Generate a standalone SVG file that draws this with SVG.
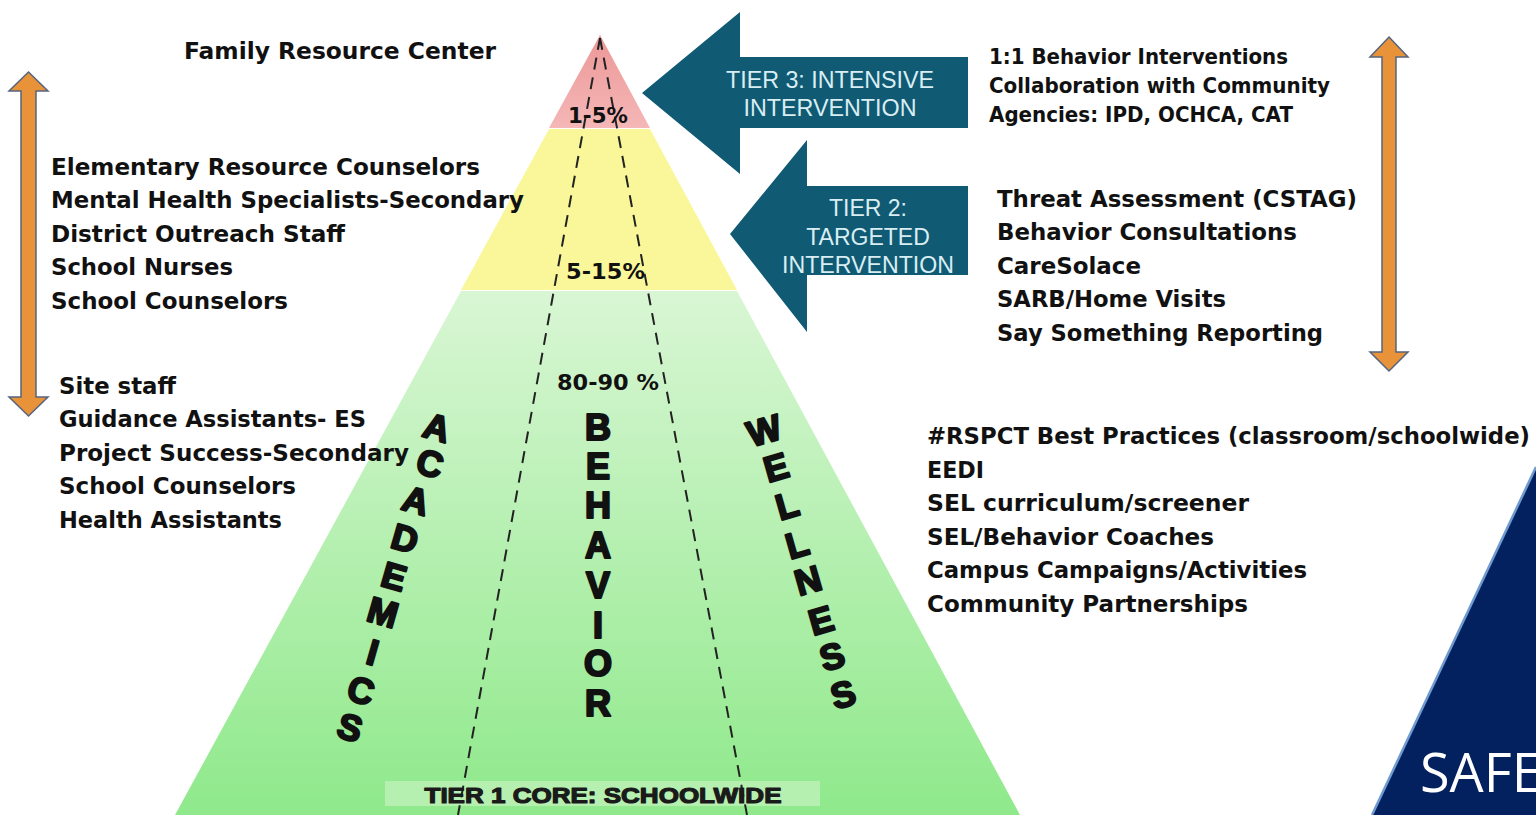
<svg xmlns="http://www.w3.org/2000/svg" width="1536" height="815" viewBox="0 0 1536 815">
<defs>
<linearGradient id="gGreen" x1="0" y1="291" x2="0" y2="815" gradientUnits="userSpaceOnUse">
<stop offset="0" stop-color="#d9f6d4"/>
<stop offset="1" stop-color="#8fe98b"/>
</linearGradient>
<linearGradient id="gRed" x1="0" y1="35" x2="0" y2="128" gradientUnits="userSpaceOnUse">
<stop offset="0" stop-color="#ec9797"/>
<stop offset="1" stop-color="#f5b7b7"/>
</linearGradient>
<style>
.t{font-family:"DejaVu Sans","Liberation Sans",sans-serif;font-weight:bold;fill:#111;}
.b{font-size:23px;}
.s{font-size:21px;}
.pct{font-family:"DejaVu Sans","Liberation Sans",sans-serif;font-weight:bold;font-size:22px;fill:#111;}
.big{font-family:"Liberation Sans",Arial,sans-serif;font-weight:bold;font-size:36px;fill:#111;stroke:#111;stroke-width:2.2;stroke-linejoin:round;text-anchor:middle;}
.teal{fill:#105a73;}
.tt{font-family:"Liberation Sans",Arial,sans-serif;font-size:23px;fill:#d9eef3;text-anchor:middle;}
.dash{fill:none;stroke:#222;stroke-width:2;stroke-dasharray:12 8;}
.orange{fill:#e8923a;stroke:#55647f;stroke-width:1.5;}
</style>
</defs>
<rect width="1536" height="815" fill="#ffffff"/>

<g id="pyramid">
<polygon points="600,35 549,128 650,128" fill="url(#gRed)"/>
<polygon points="549,129 650,129 737,290 461,290" fill="#f9f79a"/>
<polygon points="461,291 737,291 1020,815 175,815" fill="url(#gGreen)"/>
<rect x="385" y="781" width="435" height="25" fill="#b6f0b0"/>
</g>

<g id="connectors">
<path class="dash" d="M600,38 L458,815"/>
<path class="dash" d="M600,38 L747,815"/>
<path class="orange" d="M28.5,72 L48,91 L36,91 L36,397 L48,397 L28.5,416 L9,397 L21,397 L21,91 L9,91 Z"/>
<path class="orange" d="M1389,37 L1408,57 L1396,57 L1396,352 L1408,352 L1389,371 L1370,352 L1382,352 L1382,57 L1370,57 Z"/>
</g>

<g id="tier-labels">
<text class="pct" x="568" y="123" textLength="60" lengthAdjust="spacingAndGlyphs">1-5%</text>
<text class="pct" x="566" y="279" textLength="79" lengthAdjust="spacingAndGlyphs">5-15%</text>
<text class="pct" x="557" y="390" textLength="102" lengthAdjust="spacingAndGlyphs">80-90 %</text>
<text x="603" y="803" font-family="Liberation Sans,Arial,sans-serif" font-weight="bold" font-size="22" fill="#1a1a1a" stroke="#1a1a1a" stroke-width="1.2" stroke-linejoin="round" text-anchor="middle" textLength="357" lengthAdjust="spacingAndGlyphs">TIER 1 CORE: SCHOOLWIDE</text>
</g>

<g id="academics">
<text class="big" transform="translate(437,427) rotate(16)" y="13">A</text>
<text class="big" transform="translate(430,463) rotate(16)" y="13">C</text>
<text class="big" transform="translate(416,500) rotate(16)" y="13">A</text>
<text class="big" transform="translate(405,538) rotate(16)" y="13">D</text>
<text class="big" transform="translate(394,576) rotate(16)" y="13">E</text>
<text class="big" transform="translate(383,612) rotate(16)" y="13">M</text>
<text class="big" transform="translate(373,652) rotate(16)" y="13">I</text>
<text class="big" transform="translate(361,690) rotate(16)" y="13">C</text>
<text class="big" transform="translate(350,727) rotate(16)" y="13">S</text>
</g>

<g id="behavior">
<text class="big" x="598" y="440">B</text>
<text class="big" x="598" y="479">E</text>
<text class="big" x="598" y="518">H</text>
<text class="big" x="598" y="558">A</text>
<text class="big" x="598" y="598">V</text>
<text class="big" x="598" y="638">I</text>
<text class="big" x="598" y="676">O</text>
<text class="big" x="598" y="716">R</text>
</g>

<g id="wellness">
<text class="big" transform="translate(764,430) rotate(-16)" y="13">W</text>
<text class="big" transform="translate(776,467) rotate(-16)" y="13">E</text>
<text class="big" transform="translate(787,505) rotate(-16)" y="13">L</text>
<text class="big" transform="translate(797,544) rotate(-16)" y="13">L</text>
<text class="big" transform="translate(808,580) rotate(-16)" y="13">N</text>
<text class="big" transform="translate(821,620) rotate(-16)" y="13">E</text>
<text class="big" transform="translate(832,656) rotate(-16)" y="13">S</text>
<text class="big" transform="translate(843,694) rotate(-16)" y="13">S</text>
</g>

<g id="tier3-arrow">
<polygon class="teal" points="642,93 740,12 740,57 968,57 968,128 740,128 740,174"/>
<text class="tt" x="830" y="88" textLength="208" lengthAdjust="spacingAndGlyphs">TIER 3: INTENSIVE</text>
<text class="tt" x="830" y="116" textLength="173" lengthAdjust="spacingAndGlyphs">INTERVENTION</text>
</g>

<g id="tier2-arrow">
<polygon class="teal" points="730,234 807,140 807,186 968,186 968,275 807,275 807,332"/>
<text class="tt" x="868" y="216">TIER 2:</text>
<text class="tt" x="868" y="245">TARGETED</text>
<text class="tt" x="868" y="273" textLength="172" lengthAdjust="spacingAndGlyphs">INTERVENTION</text>
</g>

<g id="family-resource">
<text class="t b" x="184" y="59" textLength="312" lengthAdjust="spacingAndGlyphs">Family Resource Center</text>
</g>

<g id="left-tier2-list">
<text class="t b" x="51" y="175" textLength="429" lengthAdjust="spacingAndGlyphs">Elementary Resource Counselors</text>
<text class="t b" x="51" y="208" textLength="473" lengthAdjust="spacingAndGlyphs">Mental Health Specialists-Secondary</text>
<text class="t b" x="51" y="242" textLength="294" lengthAdjust="spacingAndGlyphs">District Outreach Staff</text>
<text class="t b" x="51" y="275" textLength="182" lengthAdjust="spacingAndGlyphs">School Nurses</text>
<text class="t b" x="51" y="309" textLength="237" lengthAdjust="spacingAndGlyphs">School Counselors</text>
</g>

<g id="left-tier1-list">
<text class="t b" x="59" y="394" textLength="117" lengthAdjust="spacingAndGlyphs">Site staff</text>
<text class="t b" x="59" y="427" textLength="307" lengthAdjust="spacingAndGlyphs">Guidance Assistants- ES</text>
<text class="t b" x="59" y="461" textLength="350" lengthAdjust="spacingAndGlyphs">Project Success-Secondary</text>
<text class="t b" x="59" y="494" textLength="237" lengthAdjust="spacingAndGlyphs">School Counselors</text>
<text class="t b" x="59" y="528" textLength="223" lengthAdjust="spacingAndGlyphs">Health Assistants</text>
</g>

<g id="right-tier3-list">
<text class="t s" x="989" y="64" textLength="299" lengthAdjust="spacingAndGlyphs">1:1 Behavior Interventions</text>
<text class="t s" x="989" y="93" textLength="341" lengthAdjust="spacingAndGlyphs">Collaboration with Community</text>
<text class="t s" x="989" y="122" textLength="304" lengthAdjust="spacingAndGlyphs">Agencies: IPD, OCHCA, CAT</text>
</g>

<g id="right-tier2-list">
<text class="t b" x="997" y="207" textLength="360" lengthAdjust="spacingAndGlyphs">Threat Assessment (CSTAG)</text>
<text class="t b" x="997" y="240" textLength="300" lengthAdjust="spacingAndGlyphs">Behavior Consultations</text>
<text class="t b" x="997" y="274" textLength="144" lengthAdjust="spacingAndGlyphs">CareSolace</text>
<text class="t b" x="997" y="307" textLength="229" lengthAdjust="spacingAndGlyphs">SARB/Home Visits</text>
<text class="t b" x="997" y="341" textLength="326" lengthAdjust="spacingAndGlyphs">Say Something Reporting</text>
</g>

<g id="right-tier1-list">
<text class="t b" x="927" y="444" textLength="603" lengthAdjust="spacingAndGlyphs">#RSPCT Best Practices (classroom/schoolwide)</text>
<text class="t b" x="927" y="478" textLength="57" lengthAdjust="spacingAndGlyphs">EEDI</text>
<text class="t b" x="927" y="511" textLength="322" lengthAdjust="spacingAndGlyphs">SEL curriculum/screener</text>
<text class="t b" x="927" y="545" textLength="287" lengthAdjust="spacingAndGlyphs">SEL/Behavior Coaches</text>
<text class="t b" x="927" y="578" textLength="380" lengthAdjust="spacingAndGlyphs">Campus Campaigns/Activities</text>
<text class="t b" x="927" y="612" textLength="321" lengthAdjust="spacingAndGlyphs">Community Partnerships</text>
</g>

<g id="safe-corner">
<polygon points="1536,467 1372,815 1536,815" fill="#03215f"/>
<line x1="1536" y1="467" x2="1372" y2="815" stroke="#6f9bd1" stroke-width="2.5"/>
<text x="1420" y="792" font-family="Open Sans,Noto Sans,sans-serif" font-size="54" fill="#ffffff">SAFE</text>
</g>
</svg>
